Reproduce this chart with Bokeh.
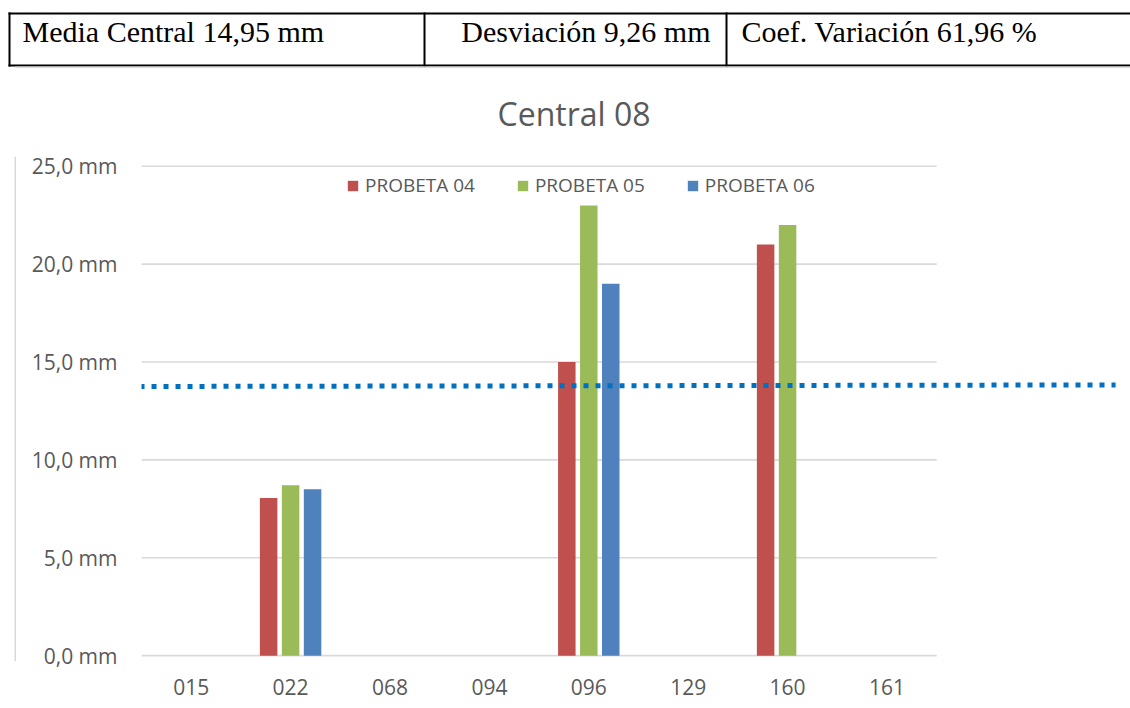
from bokeh.plotting import figure
from bokeh.models import Range1d, FixedTicker, Legend, LegendItem
from bokeh.layouts import column, row
from bokeh.embed import file_html
from bokeh.resources import INLINE
from bokeh.core.properties import value

# ---------------- data ----------------
categories = ["015", "022", "068", "094", "096", "129", "160", "161"]
probeta_04 = [None, 8.05, None, None, 15.0, None, 21.0, None]
probeta_05 = [None, 8.7, None, None, 23.0, None, 22.0, None]
probeta_06 = [None, 8.5, None, None, 19.0, None, None, None]
series_names = ["PROBETA 04", "PROBETA 05", "PROBETA 06"]
series_colors = ["#C0504D", "#9BBB59", "#4F81BD"]
y_ticks = [0, 5, 10, 15, 20, 25]
y_tick_labels = ["0,0 mm", "5,0 mm", "10,0 mm", "15,0 mm", "20,0 mm", "25,0 mm"]
trend_x = [-0.52, 9.3]
trend_y = [13.75, 13.83]
chart_title = "Central 08"
table_cells = ["Media Central 14,95 mm", "Desviación 9,26 mm", "Coef. Variación 61,96 %"]

FONT = "Open Sans"
GRID = "#D9D9D9"
TXT = "#595959"

# ---------------- table strip ----------------
tf = figure(width=1130, height=68, x_range=Range1d(0, 1130), y_range=Range1d(68, 0),
            toolbar_location=None, output_backend="svg", min_border=0,
            x_axis_location=None, y_axis_location=None)
tf.grid.visible = False
tf.outline_line_color = None
tf.segment(x0=[8, 8], x1=[1130, 1130], y0=[13, 65], y1=[13, 65], line_color="black", line_width=2)
tf.segment(x0=[9, 424, 726], x1=[9, 424, 726], y0=[12, 12, 12], y1=[66, 66, 66],
           line_color="black", line_width=2)
tf.segment(x0=[15], x1=[1130], y0=[67], y1=[67], line_color=GRID, line_width=2)
tf.text(x=[22, 741], y=[31, 31], text=[table_cells[0], table_cells[2]],
        text_font=value("Liberation Serif"), text_font_size="30px",
        text_baseline="alphabetic", text_align="left", text_color="black")
tf.text(x=[710], y=[31], text=[table_cells[1]],
        text_font=value("Liberation Serif"), text_font_size="30px",
        text_baseline="alphabetic", text_align="right", text_color="black")

# ---------------- left border strip ----------------
bf = figure(width=16, height=640, x_range=Range1d(0, 16), y_range=Range1d(0, 640),
            toolbar_location=None, output_backend="svg", min_border=0,
            x_axis_location=None, y_axis_location=None)
bf.grid.visible = False
bf.outline_line_color = None
bf.segment(x0=[15], x1=[15], y0=[0], y1=[640], line_color=GRID, line_width=2)

# ---------------- chart ----------------
n = len(categories)
p = figure(width=1114, height=640, x_range=Range1d(-0.5, 9.45), y_range=Range1d(-0.3, 25.5),
           toolbar_location=None, output_backend="svg",
           min_border_left=125, min_border_right=0, min_border_top=88, min_border_bottom=47)
p.outline_line_color = None
p.grid.visible = False

p.title.text = chart_title
p.title.align = "left"
p.title.offset = 356
p.title.standoff = 43
p.title.text_font = FONT
p.title.text_font_size = "32px"
p.title.text_font_style = "normal"
p.title.text_color = TXT

p.segment(x0=[-0.5] * len(y_ticks), x1=[n - 0.5] * len(y_ticks), y0=y_ticks, y1=y_ticks,
          line_color=GRID, line_width=1.6)

bar_w = 0.176
step = 0.221
renderers = []
for k, (vals, col) in enumerate(zip([probeta_04, probeta_05, probeta_06], series_colors)):
    xs = [i + (k - 1) * step for i in range(n)]
    tops = [float("nan") if v is None else v for v in vals]
    r = p.vbar(x=xs, top=tops, bottom=0, width=bar_w, fill_color=col, line_color=None)
    renderers.append(r)

p.line(trend_x, trend_y, line_color="#0070C0", line_width=5, line_dash="5 7")

legend = Legend(items=[LegendItem(label=nm, renderers=[r]) for nm, r in zip(series_names, renderers)],
                location=(205, 463), orientation="horizontal", padding=0, margin=0,
                spacing=41, glyph_width=13, glyph_height=13, label_standoff=6,
                label_height=20, border_line_color=None, background_fill_alpha=0,
                label_text_font=FONT, label_text_font_size="19px", label_text_color=TXT)
p.add_layout(legend)

p.yaxis.ticker = FixedTicker(ticks=y_ticks)
p.yaxis.major_label_overrides = {t: l for t, l in zip(y_ticks, y_tick_labels)}
p.xaxis.ticker = FixedTicker(ticks=list(range(n)))
p.xaxis.major_label_overrides = {i: c for i, c in enumerate(categories)}
for ax in (p.xaxis, p.yaxis):
    ax.axis_line_color = None
    ax.major_tick_line_color = None
    ax.minor_tick_line_color = None
    ax.major_label_text_font = FONT
    ax.major_label_text_font_size = "21px"
    ax.major_label_text_color = TXT
p.yaxis.major_label_standoff = 18
p.xaxis.major_label_standoff = 11

layout = column(tf, row(bf, p, spacing=0), spacing=0)
open("out.html", "w").write(file_html(layout, INLINE))
